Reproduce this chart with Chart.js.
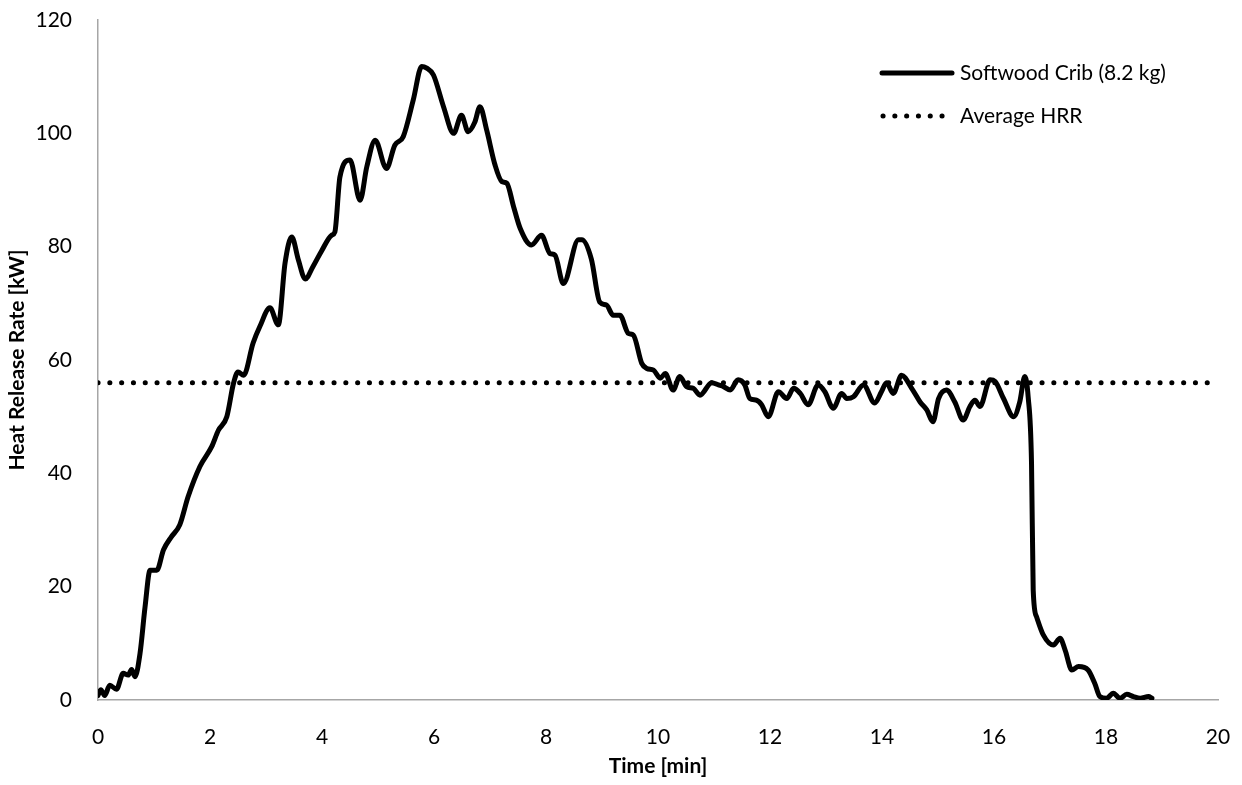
<!DOCTYPE html>
<html>
<head>
<meta charset="utf-8">
<title>Heat Release Rate</title>
<script src="https://cdn.jsdelivr.net/npm/chart.js@4/dist/chart.umd.min.js"></script>
<style>
  html, body { margin: 0; padding: 0; background: #fff; }
  #hrrChart { display: block; }
</style>
</head>
<body>
<canvas id="hrrChart" width="1242" height="785"></canvas>
<script>
// time [min] and heat release rate [kW] of the crib test
const timeMin = [
  0.00, 0.05, 0.12, 0.21, 0.33, 0.45, 0.54, 0.60, 0.66, 0.75,
  0.84, 0.93, 1.05, 1.17, 1.31, 1.46, 1.61, 1.82, 2.03, 2.15,
  2.30, 2.42, 2.50, 2.60, 2.77, 2.89, 3.07, 3.22, 3.34, 3.46,
  3.58, 3.70, 3.84, 3.99, 4.17, 4.23, 4.32, 4.50, 4.68, 4.80,
  4.95, 5.15, 5.30, 5.45, 5.63, 5.78, 5.87, 5.99, 6.17, 6.35,
  6.49, 6.61, 6.73, 6.82, 6.94, 7.09, 7.21, 7.30, 7.42, 7.54,
  7.74, 7.92, 8.07, 8.16, 8.31, 8.58, 8.64, 8.81, 8.96, 9.08,
  9.20, 9.32, 9.47, 9.56, 9.71, 9.80, 9.92, 10.04, 10.13, 10.27,
  10.39, 10.51, 10.63, 10.75, 10.96, 11.08, 11.17, 11.29, 11.43, 11.55,
  11.64, 11.76, 11.85, 11.97, 12.15, 12.30, 12.42, 12.54, 12.68, 12.86,
  12.98, 13.13, 13.28, 13.37, 13.49, 13.67, 13.87, 13.99, 14.08, 14.20,
  14.35, 14.53, 14.68, 14.80, 14.91, 15.01, 15.15, 15.30, 15.45, 15.57,
  15.66, 15.75, 15.93, 16.02, 16.17, 16.35, 16.46, 16.55, 16.61, 16.67,
  16.70, 16.76, 16.88, 17.06, 17.18, 17.27, 17.39, 17.51, 17.68, 17.80,
  17.89, 18.01, 18.13, 18.25, 18.37, 18.49, 18.61, 18.76, 18.82
];
const hrrKw = [
  0.8, 1.8, 0.8, 2.6, 1.9, 4.7, 4.4, 5.4, 4.1, 8.2,
  16.4, 22.9, 22.9, 26.5, 28.8, 30.9, 35.9, 41.2, 44.7, 47.6,
  50.0, 55.9, 57.9, 57.3, 63.0, 65.9, 69.2, 66.2, 77.1, 81.7,
  77.6, 74.3, 76.5, 79.2, 82.0, 82.6, 92.3, 95.3, 88.2, 94.1,
  98.8, 93.8, 97.9, 99.4, 105.9, 111.8, 111.5, 110.3, 104.7, 100.0,
  103.2, 100.3, 102.0, 104.7, 100.6, 94.4, 91.5, 91.2, 87.1, 83.2,
  80.3, 82.0, 78.8, 78.5, 73.5, 81.2, 81.2, 77.8, 70.2, 69.7,
  67.9, 67.9, 64.7, 64.4, 59.4, 58.5, 58.2, 56.8, 57.6, 54.7,
  57.1, 55.3, 55.0, 53.8, 56.0, 55.6, 55.3, 54.7, 56.5, 55.6,
  53.2, 52.9, 52.1, 50.0, 54.4, 53.2, 55.0, 54.1, 52.1, 55.6,
  54.4, 51.5, 54.1, 53.2, 53.5, 55.6, 52.4, 54.4, 56.0, 54.1,
  57.3, 55.0, 52.6, 51.2, 49.1, 53.2, 54.7, 52.6, 49.4, 51.8,
  52.9, 51.8, 56.5, 56.2, 53.2, 50.0, 52.6, 57.1, 53.5, 41.8,
  19.4, 14.7, 11.5, 9.7, 10.9, 8.8, 5.3, 5.9, 5.3, 2.9,
  0.6, 0.3, 1.2, 0.3, 1.0, 0.6, 0.3, 0.6, 0.3
];

// mean HRR over the test, drawn across the whole time axis
const averageHrr = 56;
const averageSpan = [0, 20];

const xTicks = { min: 0, max: 20, step: 2 };
const yTicks = { min: 0, max: 120, step: 20 };

const seriesNames = ["Softwood Crib (8.2 kg)", "Average HRR"];

const FONT = "Lato, 'Open Sans', sans-serif";

// simple legend in the top right corner of the plot
const cornerLegend = {
  id: "cornerLegend",
  afterDraw(chart) {
    const ctx = chart.ctx;
    const rows = [
      { y: 73, ds: chart.data.datasets[0], x0: 882, x1: 952 },
      { y: 116, ds: chart.data.datasets[1], x0: 883, x1: 945 }
    ];
    ctx.save();
    rows.forEach(r => {
      ctx.beginPath();
      ctx.lineWidth = r.ds.borderWidth;
      ctx.strokeStyle = r.ds.borderColor;
      ctx.lineCap = r.ds.borderCapStyle || "butt";
      ctx.setLineDash(r.ds.borderDash || []);
      ctx.moveTo(r.x0, r.y);
      ctx.lineTo(r.x1, r.y);
      ctx.stroke();
      ctx.setLineDash([]);
      ctx.fillStyle = "#000";
      ctx.font = "21px " + FONT;
      ctx.textBaseline = "middle";
      ctx.textAlign = "left";
      ctx.fillText(r.ds.label, 960, r.y);
    });
    ctx.restore();
  }
};

const ctx = document.getElementById("hrrChart").getContext("2d");
const hrrChart = new Chart(ctx, {
  type: "line",
  data: {
    datasets: [
      {
        label: seriesNames[0],
        data: timeMin.map((t, i) => ({ x: t, y: hrrKw[i] })),
        borderColor: "#000",
        borderWidth: 5,
        borderCapStyle: "round",
        borderJoinStyle: "round",
        pointRadius: 0,
        cubicInterpolationMode: "monotone",
        fill: false
      },
      {
        label: seriesNames[1],
        data: averageSpan.map(t => ({ x: t, y: averageHrr })),
        borderColor: "#000",
        borderWidth: 5,
        borderCapStyle: "round",
        borderDash: [0.1, 11.7],
        pointRadius: 0,
        fill: false
      }
    ]
  },
  plugins: [cornerLegend],
  options: {
    responsive: false,
    animation: false,
    layout: { padding: { top: 20, right: 24, left: 0, bottom: 0 } },
    plugins: {
      legend: { display: false },
      tooltip: { enabled: false }
    },
    scales: {
      x: {
        type: "linear",
        min: xTicks.min,
        max: xTicks.max,
        grid: { display: false, drawTicks: false },
        border: { color: "#a6a6a6", width: 1.5 },
        ticks: {
          stepSize: xTicks.step,
          padding: 25,
          color: "#000",
          font: { family: FONT, size: 21 }
        },
        title: {
          display: true,
          text: "Time [min]",
          color: "#000",
          font: { family: FONT, size: 21, weight: "bold" },
          padding: { top: 0, bottom: 6 }
        },
        afterFit(scale) {
          scale.height = 85;
          scale.paddingLeft = 0;
          scale.paddingRight = 0;
        }
      },
      y: {
        min: yTicks.min,
        max: yTicks.max,
        grid: { display: false, drawTicks: false },
        border: { color: "#a6a6a6", width: 1.5 },
        ticks: {
          stepSize: yTicks.step,
          padding: 26,
          color: "#000",
          font: { family: FONT, size: 21 }
        },
        title: {
          display: true,
          text: "Heat Release Rate [kW]",
          color: "#000",
          font: { family: FONT, size: 21, weight: "bold" },
          padding: { top: 5, bottom: 0 }
        },
        afterFit(scale) {
          scale.width = 98;
          scale.paddingTop = 0;
          scale.paddingBottom = 0;
        }
      }
    }
  }
});
</script>
</body>
</html>
